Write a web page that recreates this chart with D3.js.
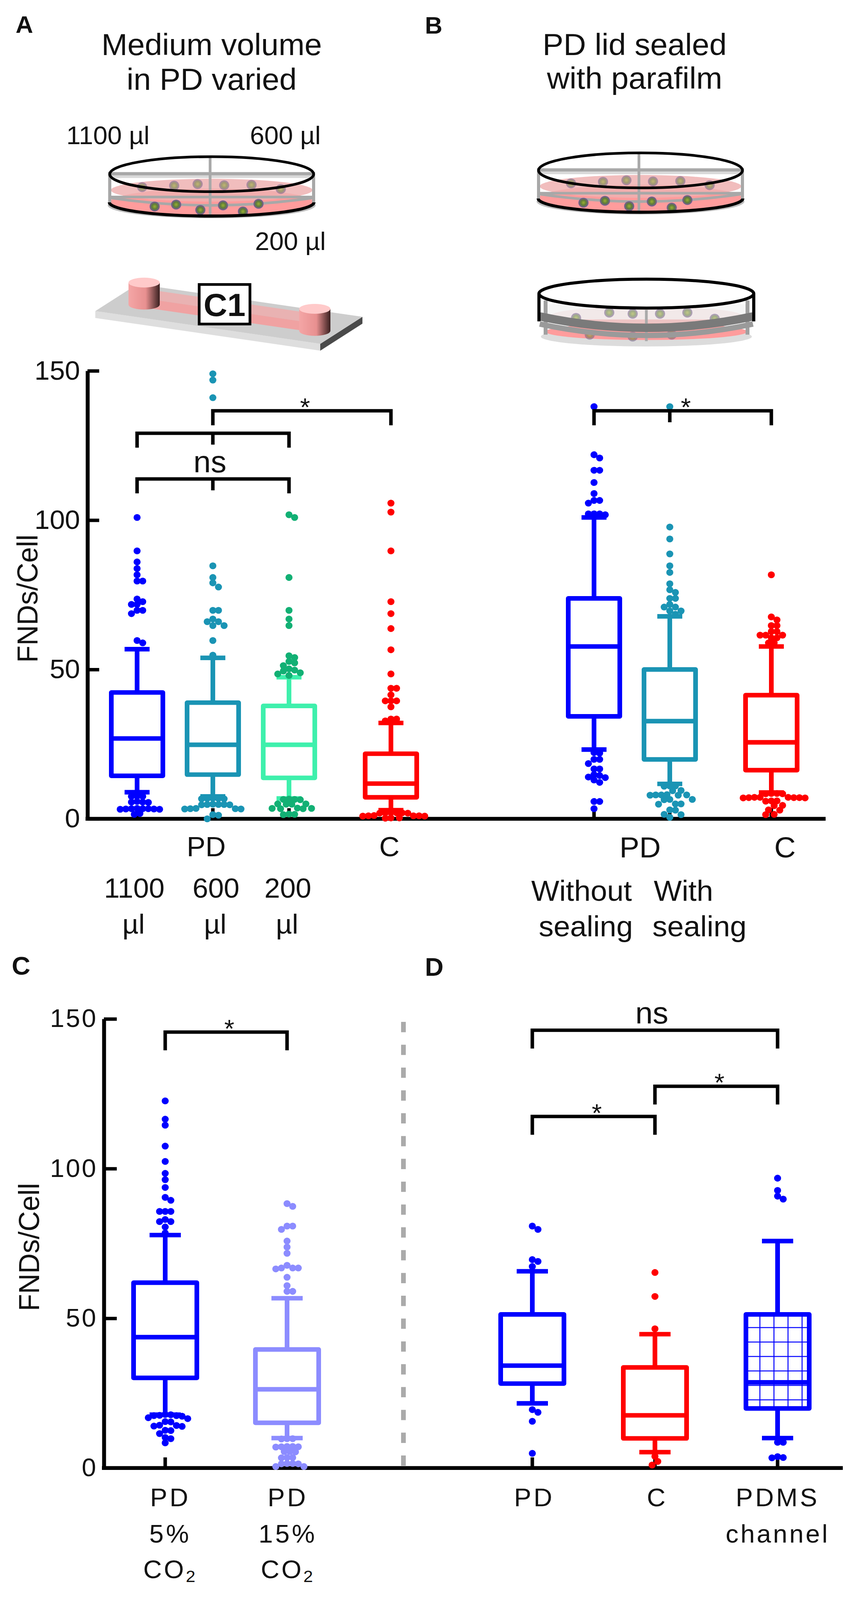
<!DOCTYPE html>
<html>
<head>
<meta charset="utf-8">
<script src="https://cdn.jsdelivr.net/npm/d3@7"></script>
<style>
html, body { margin: 0; padding: 0; background: #fff; overflow: hidden; }
svg { display: block; }
</style>
</head>
<body>
<div id="viz"></div>
<script>
// ---- data: panels A + B (one shared axis) ----
var groupsAB = ["1100 µl", "600 µl", "200 µl", "C (A)", "Without sealing", "With sealing", "C (B)"];
var lowAB  = [8.9, 7.5, 6.8, 2.9, 23.2, 11.7, 8.8];
var q1AB   = [14.4, 14.8, 13.7, 7.2, 34.3, 19.9, 16.3];
var medAB  = [26.9, 24.8, 24.8, 11.8, 57.7, 32.7, 25.6];
var q3AB   = [42.3, 38.9, 37.8, 21.8, 73.8, 50.0, 41.4];
var highAB = [56.8, 53.9, 47.4, 32.1, 100.9, 67.8, 57.7];
var outAB = [
  [100.9, 89.7, 86, 83.8, 81.7, 79.6, 79.6, 73.6, 72.7, 71.8, 71.8, 69.8, 69.8, 68.7, 59.7, 58.9,
   7.6, 7.5, 7.5, 5.8, 5.6, 5.6, 5.5, 3.5, 3.4, 3.4, 3.4, 3.3, 3.3, 3.2, 3.2, 1.8, 1.5],
  [149, 146.9, 141, 84.7, 80.8, 79, 77.6, 69.8, 69.8, 66.9, 66, 66, 64.7, 64.7, 59.7, 54.8,
   6.9, 6.8, 6.8, 6.7, 6.7, 4.9, 4.8, 4.8, 4.8, 4.7, 4.7, 3.5, 3.4, 3.4, 3.3, 3.3, 1.4, 1.2, 0],
  [101.8, 100.9, 80.8, 69.8, 66.9, 64.7, 54.6, 54.0, 52.7, 52.2, 51.3, 50.2, 49.8, 49.5, 48.9, 48.5, 48.0,
   6.6, 6.5, 6.5, 6.4, 5.0, 5.0, 4.9, 4.9, 3.6, 3.5, 3.5, 3.4, 3.4, 1.6, 1.5, 1.4],
  [105.7, 102.7, 89.7, 72.7, 68.7, 63.7, 56.6, 48.5, 43.7, 43.7, 41.5, 39.5, 39.5, 39.5, 37.5, 33.4, 33.4, 32.8,
   2.1, 2.0, 2.0, 2.0, 1.9, 1.9, 1.1, 1.0, 1.0, 1.0, 0.9, 0.9, 0.3, 0.3, 0.2],
  [138, 121.9, 120.8, 116.7, 116.7, 112.6, 108.9, 106.6, 106.6, 105.7, 102.1, 102.1, 102.1, 101.8,
   22.2, 22.0, 19.9, 19.9, 18.5, 16.7, 16.7, 14.8, 14.5, 14.0, 13.8, 13.0, 12.2, 5.8, 5.8, 3.4],
  [138, 97.7, 93.7, 88.7, 84.7, 82.5, 78.7, 76.7, 75.8, 73.8, 73.8, 71.8, 70.9, 70.9, 69.6, 69.6, 68.5,
   11.0, 11.0, 10.9, 9.5, 9.4, 8.1, 8.0, 8.0, 8.0, 7.9, 7.9, 6.5, 6.5, 6.4, 5.0, 5.0, 4.9, 3.0, 2.9, 1.5, 1.4, 0.5],
  [81.7, 67.6, 66.6, 64.7, 64.7, 62.7, 62.7, 61.5, 61.5, 61.5, 60.6, 60.6, 58.9, 58.9,
   8.5, 8.5, 8.4, 8.4, 7.2, 7.2, 7.2, 7.1, 7.1, 7.1, 7.0, 7.0, 6.0, 6.0, 5.9, 4.5, 4.4, 3.0, 2.9, 1.5, 1.4]
];

// ---- data: panels C + D ----
var groupsCD = ["PD 5% CO2", "PD 15% CO2", "PD", "C", "PDMS channel"];
var lowCD  = [17.8, 10.0, 21.6, 5.3, 10.0];
var q1CD   = [30.1, 15.1, 28.2, 9.9, 19.9];
var medCD  = [43.7, 26.3, 34.2, 17.6, 28.6];
var q3CD   = [61.9, 39.6, 51.3, 33.6, 51.3];
var highCD = [77.8, 56.7, 65.7, 44.7, 75.8];
var outCD = [
  [122.6, 116.5, 114.5, 107.5, 102.4, 98.4, 96.3, 93.7, 90.4, 89.4, 85.7, 85.7, 85.7, 83, 82.3, 82.3, 80.5, 78.5,
   17.9, 17.8, 17.6, 17.5, 17.5, 17.3, 16.8, 16.5, 15.5, 15.4, 14.3, 14.2, 14.0, 13.9, 12.6, 12.5, 11.5, 10.2, 9.8, 8.4],
  [88.3, 87.4, 80.8, 80.8, 79.7, 75.8, 73.8, 71.7, 67.7, 66.8, 66.8, 66.8, 66.5, 63.7, 60.9, 59, 59,
   9.8, 9.8, 9.7, 7.2, 7.2, 7.1, 7.1, 7.0, 5.5, 5.5, 5.4, 3.5, 3.5, 3.4, 1.5, 1.5, 1.4, 1.4, 0.5, 0.5],
  [80.8, 79.7, 69.6, 69, 67.3, 19.5, 18.6, 15.6, 4.9],
  [65.3, 57.3, 46.5, 3.9, 2.2, 1.0],
  [96.8, 92.7, 90.8, 89.8, 8.6, 8.6, 3.8, 3.5, 3.4]
];

// significance brackets: [from, to, value, label, middle group]
var bracketsAB = [
  ["600 µl", "C (A)", 136.6, "*", null],
  ["1100 µl", "200 µl", 129.1, "", "600 µl"],
  ["1100 µl", "200 µl", 113.8, "ns", "600 µl"],
  ["Without sealing", "C (B)", 136.6, "*", "With sealing"]
];
var bracketsCD = [
  ["PD 5% CO2", "PD 15% CO2", 145.6, "*", null],
  ["PD", "PDMS channel", 146.2, "ns", null],
  ["C", "PDMS channel", 127.5, "*", null],
  ["PD", "C", 117.4, "*", null]
];
var yTicks = [0, 50, 100, 150];

// ---- layout ----
var W = 2179, H = 4207;
var FONT = "'Liberation Sans', Arial, Helvetica, sans-serif";
var colAB = ["#0000ff", "#1a94b4", "#3ef0ac", "#ff0000", "#0000ff", "#1a94b4", "#ff0000"];
var dotAB = ["#0000ff", "#1a94b4", "#12b074", "#ff0000", "#0000ff", "#1a94b4", "#ff0000"];
var colCD = ["#0000ff", "#8c8cff", "#0000ff", "#ff0000", "#0000ff"];

// fit the whole figure inside whatever viewport we actually get
var vw = window.innerWidth || W, vh = window.innerHeight || H;
var svg = d3.select("#viz").append("svg")
  .attr("width", vw).attr("height", vh)
  .attr("viewBox", "0 0 " + W + " " + H)
  .attr("preserveAspectRatio", "none")
  .style("font-family", FONT);
svg.append("rect").attr("width", W).attr("height", H).attr("fill", "#fff");

var defs = svg.append("defs");
var grid = defs.append("pattern").attr("id", "grid")
  .attr("patternUnits", "userSpaceOnUse").attr("width", 36).attr("height", 38)
  .attr("x", 1911).attr("y", 3454);
grid.append("path").attr("d", "M36,0V38M0,38H36")
  .attr("stroke", "#0000ff").attr("stroke-width", 5).attr("fill", "none");

var cellG = defs.append("radialGradient").attr("id", "cell");
cellG.append("stop").attr("offset", "0%").attr("stop-color", "#9ab030");
cellG.append("stop").attr("offset", "55%").attr("stop-color", "#5d7a3a");
cellG.append("stop").attr("offset", "100%").attr("stop-color", "#7a5aa0");

var cyl = defs.append("linearGradient").attr("id", "cyl");
cyl.append("stop").attr("offset", "0%").attr("stop-color", "#f4a6a6");
cyl.append("stop").attr("offset", "55%").attr("stop-color", "#e89090");
cyl.append("stop").attr("offset", "100%").attr("stop-color", "#3a2020");

// ---- panel letters & titles ----
function txt(g, s, x, y, size, opt) {
  opt = opt || {};
  return g.append("text").attr("x", x).attr("y", y)
    .attr("font-size", size).attr("fill", "#111")
    .attr("text-anchor", opt.anchor || "middle")
    .attr("font-weight", opt.bold ? "bold" : null)
    .attr("letter-spacing", opt.ls || null)
    .text(s);
}
txt(svg, "A", 40, 86, 62, {anchor: "start", bold: true});
txt(svg, "B", 1088, 88, 62, {anchor: "start", bold: true});
txt(svg, "C", 30, 2563, 66, {anchor: "start", bold: true});
txt(svg, "D", 1088, 2566, 66, {anchor: "start", bold: true});

txt(svg, "Medium volume", 542, 145, 80);
txt(svg, "in PD varied", 542, 236, 80);
txt(svg, "PD lid sealed", 1625, 145, 80);
txt(svg, "with parafilm", 1625, 233, 80);
txt(svg, "1100 µl", 170, 379, 66, {anchor: "start"});
txt(svg, "600 µl", 640, 379, 66, {anchor: "start"});
txt(svg, "200 µl", 653, 657, 66, {anchor: "start"});

// ---- illustrations ----
function cells(g, pts, op) {
  pts.forEach(function(p) {
    g.append("circle").attr("cx", p[0]).attr("cy", p[1]).attr("r", 13)
      .attr("fill", "url(#cell)").attr("opacity", op);
  });
}

function openDish(g) {
  g.append("ellipse").attr("cx", 542).attr("cy", 540).attr("rx", 266).attr("ry", 34).attr("fill", "#bdbdbd");
  g.append("ellipse").attr("cx", 542).attr("cy", 532).attr("rx", 262).attr("ry", 36).attr("fill", "#ff9c9c");
  g.append("ellipse").attr("cx", 542).attr("cy", 500).attr("rx", 258).attr("ry", 30).attr("fill", "#efb2b2").attr("opacity", 0.85);
  g.append("rect").attr("x", 280).attr("y", 452).attr("width", 524).attr("height", 16).attr("fill", "#d9d9d9");
  g.append("line").attr("x1", 280).attr("x2", 804).attr("y1", 457).attr("y2", 457).attr("stroke", "#a8a8a8").attr("stroke-width", 8);
  g.append("line").attr("x1", 282).attr("x2", 802).attr("y1", 518).attr("y2", 518).attr("stroke", "#a8a8a8").attr("stroke-width", 7);
  [281, 803].forEach(function(x) {
    g.append("line").attr("x1", x).attr("x2", x).attr("y1", 452).attr("y2", 540).attr("stroke", "#a8a8a8").attr("stroke-width", 8);
  });
  cells(g, [[364, 492], [446, 488], [506, 484], [574, 487], [644, 486], [719, 497]], 0.55);
  g.append("path").attr("d", "M282,520 Q542,560 802,520").attr("fill", "none").attr("stroke", "#a8a8a8").attr("stroke-width", 7);
  cells(g, [[396, 543], [451, 538], [513, 552], [571, 540], [622, 556], [662, 536]], 1);
  g.append("line").attr("x1", 538).attr("x2", 538).attr("y1", 414).attr("y2", 568).attr("stroke", "#a8a8a8").attr("stroke-width", 7);
  g.append("ellipse").attr("cx", 542).attr("cy", 458).attr("rx", 261).attr("ry", 46)
    .attr("fill", "none").attr("stroke", "#000").attr("stroke-width", 7);
  g.append("path").attr("d", "M280,532 A262 36 0 0 0 804 532")
    .attr("fill", "none").attr("stroke", "#000").attr("stroke-width", 8);
}
openDish(svg.append("g"));
openDish(svg.append("g").attr("transform", "translate(1098,-10)"));

// sealed dish
(function() {
  var g = svg.append("g");
  g.append("ellipse").attr("cx", 1655).attr("cy", 885).attr("rx", 270).attr("ry", 26).attr("fill", "#dcdcdc");
  g.append("ellipse").attr("cx", 1655).attr("cy", 872).attr("rx", 258).attr("ry", 22).attr("fill", "#ff9c9c");
  g.append("ellipse").attr("cx", 1655).attr("cy", 830).attr("rx", 245).attr("ry", 24).attr("fill", "#e8b0b0").attr("opacity", 0.75);
  g.append("rect").attr("x", 1395).attr("y", 800).attr("width", 520).attr("height", 40).attr("fill", "#f2f2f2").attr("opacity", 0.8);
  [1397, 1914].forEach(function(x) {
    g.append("line").attr("x1", x).attr("x2", x).attr("y1", 790).attr("y2", 880).attr("stroke", "#a0a0a0").attr("stroke-width", 10);
  });
  g.append("line").attr("x1", 1655).attr("x2", 1655).attr("y1", 815).attr("y2", 897).attr("stroke", "#aaa").attr("stroke-width", 7);
  cells(g, [[1475, 836], [1560, 822], [1620, 825], [1690, 825], [1760, 822], [1830, 838], [1510, 880], [1620, 885], [1720, 880]], 0.55);
  g.append("path").attr("d", "M1382,852 Q1655,912 1928,852").attr("fill", "none").attr("stroke", "#9a9a9a").attr("stroke-width", 14);
  g.append("path").attr("d", "M1382,832 Q1655,892 1928,832").attr("fill", "none").attr("stroke", "#7a7a7a").attr("stroke-width", 22);
  g.append("ellipse").attr("cx", 1655).attr("cy", 772).attr("rx", 275).attr("ry", 38)
    .attr("fill", "#fff").attr("stroke", "#000").attr("stroke-width", 8);
  [1380, 1930].forEach(function(x) {
    g.append("line").attr("x1", x).attr("x2", x).attr("y1", 772).attr("y2", 845).attr("stroke", "#000").attr("stroke-width", 8);
  });
})();

// C1 chip
(function() {
  var g = svg.append("g");
  g.append("polygon").attr("points", "244,818 820,904 820,922 244,836").attr("fill", "#dedede");
  g.append("polygon").attr("points", "820,904 928,833 928,851 820,922").attr("fill", "#4a4a4a");
  g.append("polygon").attr("points", "244,818 352,747 928,833 820,904").attr("fill", "#cdcdcd");
  g.append("polygon").attr("points", "372,760 806,825 806,850 372,785").attr("fill", "#e9b2b2");
  g.append("polygon").attr("points", "372,785 806,850 806,874 372,809").attr("fill", "#f0a2a2");
  [[369, 743, 801], [806, 812, 870]].forEach(function(c) {
    var cx = c[0], top = c[1], bot = c[2];
    g.append("path")
      .attr("d", "M" + (cx - 40) + "," + top + "V" + bot + "A40 13 0 0 0 " + (cx + 40) + " " + bot + "V" + top + "Z")
      .attr("fill", "url(#cyl)");
    g.append("ellipse").attr("cx", cx).attr("cy", top).attr("rx", 40).attr("ry", 13).attr("fill", "#ffcaca");
  });
  g.append("rect").attr("x", 510).attr("y", 748).attr("width", 130).attr("height", 104)
    .attr("fill", "#fff").attr("stroke", "#000").attr("stroke-width", 7);
  txt(g, "C1", 575, 831, 84, {bold: true});
})();

// ---- box plot helpers ----
function swarm(vals, y, r) {
  var placed = [];
  var step = r * 0.8, minD = 2 * r * 0.78;
  vals.slice().sort(function(a, b) { return b - a; }).forEach(function(v) {
    var py = y(v), best = 0;
    for (var k = 0; k < 60; k++) {
      var off = (k % 2 ? 1 : -1) * Math.ceil(k / 2) * step;
      var ok = placed.every(function(p) {
        var dx = p.dx - off, dy = p.y - py;
        return dx * dx + dy * dy >= minD * minD;
      });
      if (ok) { best = off; break; }
    }
    placed.push({y: py, dx: best});
  });
  return placed;
}

function drawBoxes(g, o) {
  o.groups.forEach(function(name, i) {
    var cx = o.x(name), col = o.col[i], hw = o.boxW / 2, cw = o.capW / 2;
    var top = o.y(o.q3[i]), bot = o.y(o.q1[i]);
    if (o.hatch && o.hatch[i]) {
      g.append("rect").attr("x", cx - hw).attr("width", o.boxW)
        .attr("y", top).attr("height", bot - top)
        .attr("fill", "url(#grid)");
    }
    var gg = g.append("g").attr("stroke", col).attr("stroke-width", 12).attr("fill", "none");
    gg.append("line").attr("x1", cx).attr("x2", cx).attr("y1", top).attr("y2", o.y(o.high[i]));
    gg.append("line").attr("x1", cx).attr("x2", cx).attr("y1", bot).attr("y2", o.y(o.low[i]));
    [o.high[i], o.low[i]].forEach(function(v) {
      gg.append("line").attr("x1", cx - cw).attr("x2", cx + cw).attr("y1", o.y(v)).attr("y2", o.y(v));
    });
    gg.append("rect").attr("x", cx - hw).attr("width", o.boxW)
      .attr("y", top).attr("height", bot - top)
      .attr("stroke-linejoin", "round");
    gg.append("line").attr("x1", cx - hw).attr("x2", cx + hw)
      .attr("y1", o.y(o.med[i])).attr("y2", o.y(o.med[i]));
    var pts = swarm(o.out[i], o.y, 9);
    g.append("g").selectAll("circle").data(pts).join("circle")
      .attr("cx", function(d) { return cx + d.dx; })
      .attr("cy", function(d) { return d.y; })
      .attr("r", 9).attr("fill", o.dot[i]);
  });
}

function drawAxes(g, o) {
  var ax = d3.axisLeft(o.y).tickValues(yTicks).tickSizeInner(-o.tick).tickSizeOuter(0).tickPadding(o.pad);
  var ag = g.append("g").attr("transform", "translate(" + o.x0 + ",0)").call(ax);
  ag.select(".domain").attr("stroke", "#000").attr("stroke-width", 10);
  ag.selectAll(".tick line").attr("stroke", "#000").attr("stroke-width", 9);
  ag.selectAll(".tick text").attr("font-size", o.fs).attr("fill", "#111")
    .attr("font-family", FONT).attr("letter-spacing", o.ls || null);
  g.append("line").attr("x1", o.x0 - 5).attr("x2", o.x1).attr("y1", o.y(0)).attr("y2", o.y(0))
    .attr("stroke", "#000").attr("stroke-width", 10);
  g.append("g").selectAll("line").data(o.groups).join("line")
    .attr("x1", o.x).attr("x2", o.x)
    .attr("y1", o.y(0)).attr("y2", o.y(0) - 28)
    .attr("stroke", "#000").attr("stroke-width", 9);
  g.append("text").attr("transform", "translate(" + o.labX + "," + o.labY + ") rotate(-90)")
    .attr("text-anchor", "middle").attr("font-size", 74).attr("fill", "#111")
    .text("FNDs/Cell");
}

function drawBrackets(g, list, x, y, o) {
  list.forEach(function(b) {
    var x1 = x(b[0]), x2 = x(b[1]), yb = y(b[2]);
    var p = "M" + x1 + "," + (yb + o.drop) + "V" + yb + "H" + x2 + "V" + (yb + o.drop);
    if (b[4]) p += "M" + x(b[4]) + "," + yb + "V" + (yb + o.mid);
    g.append("path").attr("d", p).attr("fill", "none")
      .attr("stroke", "#000").attr("stroke-width", 9);
    if (b[3] === "*") txt(g, "*", (x1 + x2) / 2 + 8, yb + 14, 66);
    else if (b[3] === "ns") txt(g, "ns", (x1 + x2) / 2 - 8, yb - 18, 80);
  });
}

// ---- panels A + B ----
var xAB = d3.scaleOrdinal().domain(groupsAB).range([351, 545, 740, 1001, 1521, 1715, 1975]);
var yAB = d3.scaleLinear().domain([0, 150]).range([2153, 975]);
var gAB = svg.append("g");
drawAxes(gAB, {y: yAB, x: xAB, groups: groupsAB, x0: 224, x1: 2114, tick: 30, pad: 19, fs: 70, labX: 96, labY: 1574});
drawBoxes(gAB, {groups: groupsAB, x: xAB, y: yAB, low: lowAB, q1: q1AB, med: medAB, q3: q3AB, high: highAB,
  out: outAB, col: colAB, dot: dotAB, boxW: 132, capW: 64});
drawBrackets(gAB, bracketsAB, xAB, yAB, {drop: 38, mid: 30});

txt(gAB, "PD", 528, 2251, 72);
txt(gAB, "C", 997, 2251, 72);
[["1100", 344], ["600", 553], ["200", 737]].forEach(function(d) {
  txt(gAB, d[0], d[1], 2360, 72);
  txt(gAB, "µl", d[1] - 2, 2455, 72);
});
txt(gAB, "PD", 1639, 2254, 76);
txt(gAB, "C", 2010, 2254, 76);
txt(gAB, "Without", 1489, 2369, 76);
txt(gAB, "With", 1750, 2369, 76);
txt(gAB, "sealing", 1500, 2462, 76);
txt(gAB, "sealing", 1791, 2462, 76);

// ---- panels C + D ----
var xCD = d3.scaleOrdinal().domain(groupsCD).range([423, 735, 1363, 1677, 1991]);
var yCD = d3.scaleLinear().domain([0, 150]).range([3860, 2679]);
var gCD = svg.append("g");
gCD.append("line").attr("x1", 1033).attr("x2", 1033).attr("y1", 2687).attr("y2", 3855)
  .attr("stroke", "#aaa").attr("stroke-width", 12).attr("stroke-dasharray", "27,33");
drawAxes(gCD, {y: yCD, x: xCD, groups: groupsCD, x0: 266, x1: 2158, tick: 33, pad: 16, fs: 66, ls: 4, labX: 100, labY: 3279});
drawBoxes(gCD, {groups: groupsCD, x: xCD, y: yCD, low: lowCD, q1: q1CD, med: medCD, q3: q3CD, high: highCD,
  out: outCD, col: colCD, dot: colCD, boxW: 162, capW: 80, hatch: [0, 0, 0, 0, 1]});
drawBrackets(gCD, bracketsCD, xCD, yCD, {drop: 48, mid: 0});

function co2(g, x, y) {
  var t = g.append("text").attr("x", x).attr("y", y).attr("text-anchor", "middle")
    .attr("font-size", 66).attr("fill", "#111").attr("letter-spacing", 5);
  t.append("tspan").text("CO");
  t.append("tspan").attr("font-size", 44).attr("dy", 10).text("2");
}
[["5%", 436], ["15%", 737]].forEach(function(d) {
  txt(gCD, "PD", d[1], 3961, 66, {ls: 6});
  txt(gCD, d[0], d[1], 4056, 66, {ls: 6});
  co2(gCD, d[1], 4150);
});
txt(gCD, "PD", 1368, 3961, 66, {ls: 6});
txt(gCD, "C", 1683, 3961, 66, {ls: 6});
txt(gCD, "PDMS", 1991, 3961, 66, {ls: 6});
txt(gCD, "channel", 1991, 4056, 66, {ls: 5});
</script>
</body>
</html>
